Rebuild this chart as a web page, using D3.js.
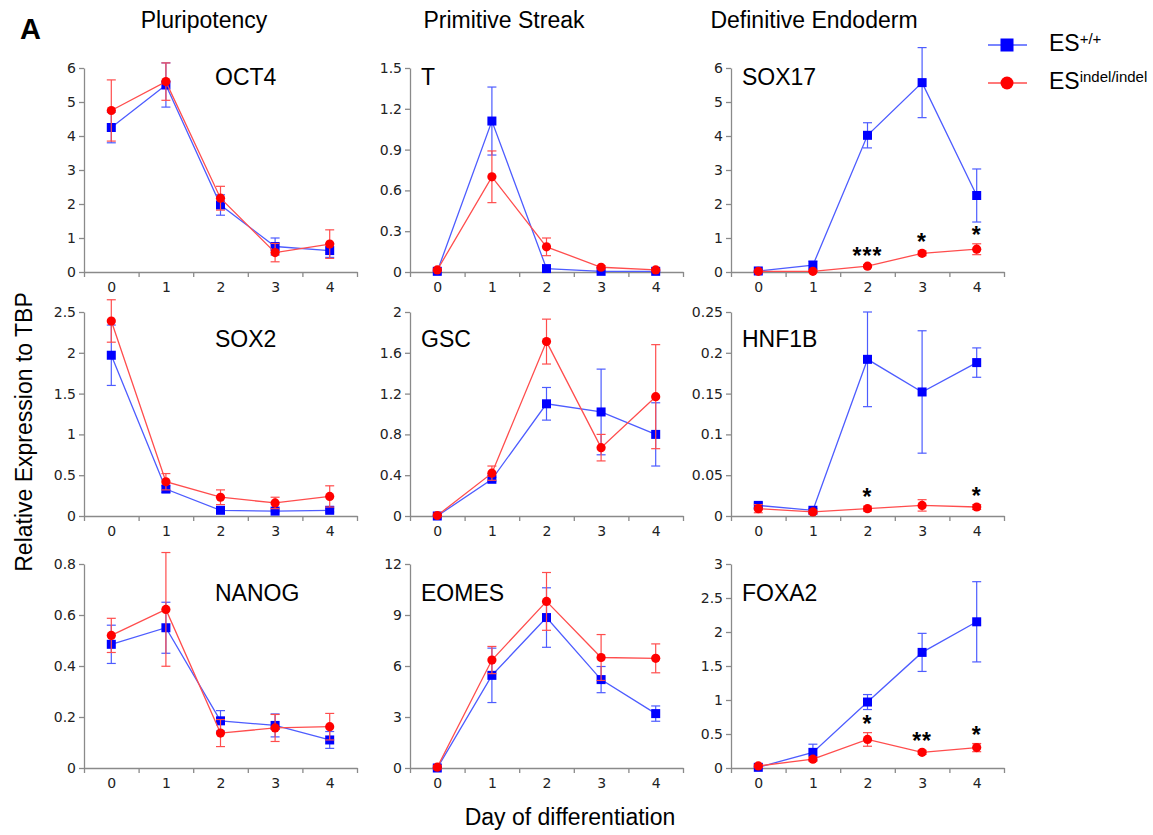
<!DOCTYPE html>
<html>
<head>
<meta charset="utf-8">
<script src="https://cdn.jsdelivr.net/npm/d3@7"></script>
<style>
  body { margin: 0; background: #fff; }
  svg { display: block; font-family: "Liberation Sans", Arial, Helvetica, sans-serif; }
  .axis path, .axis line { stroke: #8a8a8a; stroke-width: 1.3; }
  .axis text { font-family: "DejaVu Sans", sans-serif; font-size: 14px; fill: #222; }
</style>
</head>
<body>
<svg id="chart" width="1153" height="835"></svg>
<script>
// days of differentiation
const days = [0, 1, 2, 3, 4];
const columnTitles = ['Pluripotency', 'Primitive Streak', 'Definitive Endoderm'];
const genes = ['OCT4', 'T', 'SOX17', 'SOX2', 'GSC', 'HNF1B', 'NANOG', 'EOMES', 'FOXA2'];

const yTicks = [
  [0, 1, 2, 3, 4, 5, 6],
  [0, 0.3, 0.6, 0.9, 1.2, 1.5],
  [0, 1, 2, 3, 4, 5, 6],
  [0, 0.5, 1, 1.5, 2, 2.5],
  [0, 0.4, 0.8, 1.2, 1.6, 2],
  [0, 0.05, 0.1, 0.15, 0.2, 0.25],
  [0, 0.2, 0.4, 0.6, 0.8],
  [0, 3, 6, 9, 12],
  [0, 0.5, 1, 1.5, 2, 2.5, 3]
];

// ES+/+ (blue)
const wtMean = [
  [4.25, 5.5, 1.97, 0.75, 0.63],
  [0.005, 1.11, 0.025, 0.005, 0.005],
  [0.03, 0.2, 4.02, 5.57, 2.25],
  [1.97, 0.33, 0.07, 0.06, 0.07],
  [0.0, 0.36, 1.10, 1.02, 0.80],
  [0.013, 0.007, 0.192, 0.152, 0.188],
  [0.485, 0.55, 0.185, 0.167, 0.11],
  [0.0, 5.45, 8.85, 5.2, 3.2],
  [0.01, 0.23, 0.97, 1.7, 2.15]
];
const wtErr = [
  [0.45, 0.65, 0.3, 0.25, 0.2],
  [0.005, 0.25, 0.01, 0.003, 0.003],
  [0.02, 0.12, 0.37, 1.03, 0.78],
  [0.37, 0.04, 0.02, 0.01, 0.02],
  [0.005, 0.02, 0.16, 0.42, 0.31],
  [0.003, 0.002, 0.058, 0.075, 0.018],
  [0.075, 0.1, 0.04, 0.045, 0.033],
  [0.05, 1.6, 1.75, 0.77, 0.45],
  [0.01, 0.12, 0.11, 0.28, 0.59]
];

// ES indel/indel (red)
const mutMean = [
  [4.75, 5.6, 2.17, 0.57, 0.82],
  [0.015, 0.70, 0.185, 0.035, 0.015],
  [0.02, 0.02, 0.17, 0.55, 0.67],
  [2.39, 0.42, 0.23, 0.16, 0.24],
  [0.005, 0.42, 1.71, 0.67, 1.17],
  [0.009, 0.005, 0.009, 0.013, 0.011],
  [0.52, 0.622, 0.137, 0.157, 0.162],
  [0.05, 6.35, 9.8, 6.5, 6.45],
  [0.03, 0.13, 0.42, 0.23, 0.30]
];
const mutErr = [
  [0.9, 0.55, 0.35, 0.27, 0.42],
  [0.01, 0.19, 0.065, 0.012, 0.006],
  [0.02, 0.02, 0.04, 0.07, 0.16],
  [0.26, 0.1, 0.09, 0.07, 0.13],
  [0.01, 0.07, 0.22, 0.13, 0.51],
  [0.005, 0.002, 0.003, 0.007, 0.003],
  [0.067, 0.223, 0.053, 0.053, 0.052],
  [0.1, 0.8, 1.7, 1.35, 0.85],
  [0.02, 0.03, 0.1, 0.03, 0.06]
];

// significance marks (gene index, day, label)
const stars = [
  [2, 2, '***'], [2, 3, '*'], [2, 4, '*'],
  [5, 2, '*'], [5, 4, '*'],
  [8, 2, '*'], [8, 3, '**'], [8, 4, '*']
];

const colX = [84, 410, 731];
const rowY = [68, 312, 564];
const pw = 273, ph = 204;
const labelDx = [131, 11, 11];
const labelDy = [17, 35, 37];

const blue = { line: '#4d5cff', mark: '#0000ff' };
const red = { line: '#ff4d4d', mark: '#ff0000' };

const svg = d3.select('#chart');

// Draw one series: error bars, line, markers
const drawSeries = (g, x, y, means, errs, col, shape) => {
  const pts = days.map((d, i) => ({ d, v: means[i], e: errs[i] }));
  const eb = g.append('g').attr('stroke', col.line).attr('stroke-width', 1.2);
  pts.forEach(p => {
    eb.append('line').attr('x1', x(p.d)).attr('x2', x(p.d))
      .attr('y1', y(p.v - p.e)).attr('y2', y(p.v + p.e));
    [p.v - p.e, p.v + p.e].forEach(v => {
      eb.append('line').attr('x1', x(p.d) - 4.5).attr('x2', x(p.d) + 4.5)
        .attr('y1', y(v)).attr('y2', y(v));
    });
  });
  g.append('path').datum(pts)
    .attr('fill', 'none').attr('stroke', col.line).attr('stroke-width', 1.3)
    .attr('d', d3.line().x(p => x(p.d)).y(p => y(p.v)));
  if (shape === 'square') {
    g.selectAll(null).data(pts).enter().append('rect')
      .attr('x', p => x(p.d) - 4.5).attr('y', p => y(p.v) - 4.5)
      .attr('width', 9).attr('height', 9).attr('fill', col.mark);
  } else {
    g.selectAll(null).data(pts).enter().append('circle')
      .attr('cx', p => x(p.d)).attr('cy', p => y(p.v))
      .attr('r', 4.6).attr('fill', col.mark);
  }
};

genes.forEach((gene, i) => {
  const col = i % 3, row = Math.floor(i / 3);
  const ticks = yTicks[i];
  const x = d3.scaleLinear().domain([-0.5, 4.5]).range([colX[col], colX[col] + pw]);
  const y = d3.scaleLinear().domain([0, ticks[ticks.length - 1]]).range([rowY[row] + ph, rowY[row]]);
  const g = svg.append('g');

  g.append('g').attr('class', 'axis')
    .attr('transform', `translate(${colX[col]},0)`)
    .call(d3.axisLeft(y).tickValues(ticks).tickFormat(d => String(d)).tickSize(5).tickSizeOuter(0).tickPadding(3));

  const xb = g.append('g').attr('class', 'axis').attr('transform', `translate(0,${rowY[row] + ph})`);
  xb.call(d3.axisBottom(x).tickValues(d3.range(-0.5, 5, 1)).tickFormat('').tickSize(5).tickSizeOuter(0));
  const xl = g.append('g').attr('class', 'axis').attr('transform', `translate(0,${rowY[row] + ph})`);
  xl.call(d3.axisBottom(x).tickValues(days).tickFormat(d => String(d)).tickSize(0).tickPadding(10));
  xl.select('.domain').remove();

  g.append('text')
    .attr('x', colX[col] + labelDx[col]).attr('y', rowY[row] + labelDy[row])
    .attr('font-size', 23).attr('fill', '#000').text(gene);

  drawSeries(g, x, y, wtMean[i], wtErr[i], blue, 'square');
  drawSeries(g, x, y, mutMean[i], mutErr[i], red, 'circle');

  stars.filter(s => s[0] === i).forEach(s => {
    const top = mutMean[i][s[1]] + mutErr[i][s[1]];
    g.append('text')
      .attr('x', x(s[1])).attr('y', y(top) - 1)
      .attr('text-anchor', 'middle').attr('font-size', 23).attr('font-weight', 'bold')
      .attr('letter-spacing', 1).attr('fill', '#000').text(s[2]);
  });
});

// column titles
const titleX = [204, 504, 814];
columnTitles.forEach((t, i) => {
  svg.append('text').attr('x', titleX[i]).attr('y', 28)
    .attr('text-anchor', 'middle').attr('font-size', 23).text(t);
});

svg.append('text').attr('x', 20).attr('y', 39)
  .attr('font-size', 29).attr('font-weight', 'bold').text('A');

svg.append('text')
  .attr('transform', 'translate(32,432) rotate(-90)')
  .attr('text-anchor', 'middle').attr('font-size', 23).text('Relative Expression to TBP');

svg.append('text').attr('x', 570).attr('y', 825)
  .attr('text-anchor', 'middle').attr('font-size', 23).text('Day of differentiation');

// legend
const legend = svg.append('g');
const legendItems = [
  { col: blue, shape: 'square', sup: '+/+', y: 45 },
  { col: red, shape: 'circle', sup: 'indel/indel', y: 83 }
];
legendItems.forEach(it => {
  legend.append('line').attr('x1', 988).attr('x2', 1027).attr('y1', it.y).attr('y2', it.y)
    .attr('stroke', it.col.line).attr('stroke-width', 1.6);
  if (it.shape === 'square') {
    legend.append('rect').attr('x', 1007 - 6.5).attr('y', it.y - 6.5)
      .attr('width', 13).attr('height', 13).attr('fill', it.col.mark);
  } else {
    legend.append('circle').attr('cx', 1007).attr('cy', it.y).attr('r', 6.5).attr('fill', it.col.mark);
  }
  const t = legend.append('text').attr('x', 1049).attr('y', it.y + 6).attr('font-size', 23);
  t.append('tspan').text('ES');
  t.append('tspan').attr('font-size', 15).attr('dy', -7).text(it.sup);
});
</script>
</body>
</html>
